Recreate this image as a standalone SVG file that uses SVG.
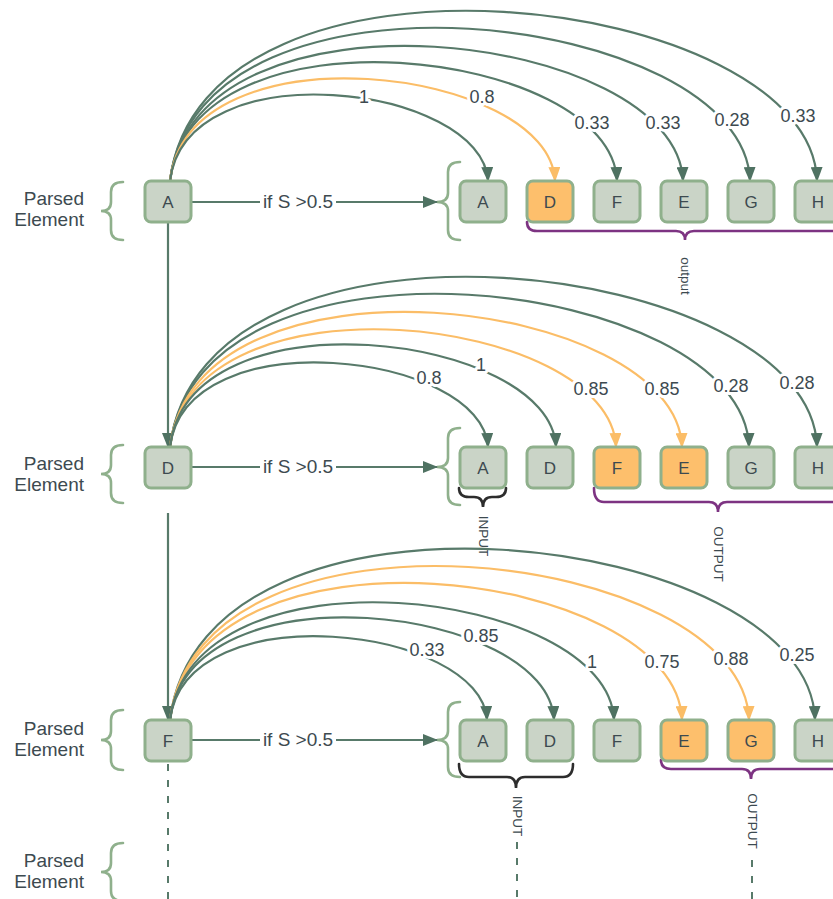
<svg xmlns="http://www.w3.org/2000/svg" width="833" height="899" viewBox="0 0 833 899">
  <defs>
    <style>
      .ln { fill: none; stroke: #587a6a; stroke-width: 2.2; }
      .or { fill: none; stroke: #fbbd67; stroke-width: 2.2; }
      .dash { fill: none; stroke: #587a6a; stroke-width: 2; stroke-dasharray: 7 9; }
      .node rect { fill: #cad4c7; stroke: #8fb08c; stroke-width: 3; }
      .node.hot rect { fill: #fdbf6c; }
      .node text { font-family: 'Liberation Sans', Arial, sans-serif; font-size: 17px; fill: #3d4a50; text-anchor: middle; }
      .lbl { font-family: 'Liberation Sans', Arial, sans-serif; font-size: 18px; fill: #3d4a50; text-anchor: middle;
             paint-order: stroke; stroke: #ffffff; stroke-width: 6; stroke-linejoin: round; }
      .cond { font-family: 'Liberation Sans', Arial, sans-serif; font-size: 19px; fill: #3d4a50; text-anchor: middle; }
      .bg { fill: #ffffff; }
      .side { font-family: 'Liberation Sans', Arial, sans-serif; font-size: 19px; fill: #3d4a50; text-anchor: end; }
      .brace { fill: none; stroke: #8fb08c; stroke-width: 2.6; stroke-linecap: round; }
      .ub-in { fill: none; stroke: #2d2d2d; stroke-width: 2.6; stroke-linecap: round; }
      .ub-out { fill: none; stroke: #7d3382; stroke-width: 2.6; stroke-linecap: round; }
      .rot { font-family: 'Liberation Sans', Arial, sans-serif; font-size: 13.5px; fill: #3d4a50; text-anchor: middle; dominant-baseline: central; }
    </style>
    <marker id="ag" viewBox="0 0 15 12" refX="14" refY="6" markerWidth="15" markerHeight="12" markerUnits="userSpaceOnUse" orient="auto">
      <path d="M0,0 L15,6 L0,12 z" fill="#4f7262"/>
    </marker>
    <marker id="ao" viewBox="0 0 15 12" refX="14" refY="6" markerWidth="15" markerHeight="12" markerUnits="userSpaceOnUse" orient="auto">
      <path d="M0,0 L15,6 L0,12 z" fill="#fbbd67"/>
    </marker>
  </defs>

  <rect width="833" height="899" fill="#ffffff"/>

  <!-- row captions with left braces -->
  <g id="captions">
    <text class="side" x="84" y="205">Parsed</text>
    <text class="side" x="84" y="226">Element</text>
    <path class="brace" d="M123,182 Q111,182 111,192 L111,202 Q111,211 101,211 Q111,211 111,220 L111,230 Q111,240 123,240"/>

    <text class="side" x="84" y="470">Parsed</text>
    <text class="side" x="84" y="491">Element</text>
    <path class="brace" d="M123,445 Q111,445 111,455 L111,465 Q111,474 101,474 Q111,474 111,483 L111,493 Q111,503 123,503"/>

    <text class="side" x="84" y="735">Parsed</text>
    <text class="side" x="84" y="756">Element</text>
    <path class="brace" d="M123,710 Q111,710 111,720 L111,731 Q111,740 101,740 Q111,740 111,749 L111,760 Q111,770 123,770"/>

    <text class="side" x="84" y="867">Parsed</text>
    <text class="side" x="84" y="888">Element</text>
    <path class="brace" d="M123,843 Q111,843 111,853 L111,863 Q111,872 101,872 Q111,872 111,881 L111,891 Q111,901 123,901"/>
  </g>

  <!-- sequence braces and group markers -->
  <g id="groups">
    <path class="brace" d="M460,162 Q448,162 448,172 L448,193 Q448,202 437,202 Q448,202 448,211 L448,230 Q448,240 460,240"/>
    <path class="brace" d="M460,428 Q448,428 448,438 L448,458 Q448,467 437,467 Q448,467 448,476 L448,495 Q448,505 460,505"/>
    <path class="brace" d="M460,702 Q448,702 448,712 L448,731 Q448,740 437,740 Q448,740 448,749 L448,767 Q448,777 460,777"/>

    <path class="ub-out" d="M527,222 Q527,231 537,231 L676,231 Q685,231 685,240 Q685,231 694,231 L900,231"/>
    <text class="rot" transform="translate(685,276) rotate(90)">output</text>

    <path class="ub-in" d="M459,488 Q459,497 469,497 L474,497 Q483,497 483,507 Q483,497 492,497 L496,497 Q506,497 506,488"/>
    <text class="rot" transform="translate(483,536) rotate(90)">INPUT</text>
    <path class="ub-out" d="M594,488 Q594,502 604,502 L709,502 Q718,502 718,512 Q718,502 727,502 L900,502"/>
    <text class="rot" transform="translate(718,554) rotate(90)">OUTPUT</text>

    <path class="ub-in" d="M459,764 Q459,777 469,777 L507,777 Q516,777 516,788 Q516,777 525,777 L563,777 Q573,777 573,764"/>
    <text class="rot" transform="translate(517,816) rotate(90)">INPUT</text>
    <path class="ub-out" d="M661,760 Q661,769 671,769 L742,769 Q751,769 751,779 Q751,769 760,769 L900,769"/>
    <text class="rot" transform="translate(752,821) rotate(90)">OUTPUT</text>
  </g>

  <!-- connectors -->
  <g id="connectors">
    <!-- vertical flow between parsed elements -->
    <path class="ln" d="M168,222 L168,447" marker-end="url(#ag)"/>
    <path class="ln" d="M168,513 L168,720" marker-end="url(#ag)"/>
    <path class="dash" d="M168,764 L168,899"/>
    <path class="dash" d="M517,842 L517,899"/>
    <path class="dash" d="M752,860 L752,899"/>

    <!-- threshold arrows -->
    <path class="ln" d="M191,202 L437,202" marker-end="url(#ag)"/>
    <path class="ln" d="M191,467 L437,467" marker-end="url(#ag)"/>
    <path class="ln" d="M191,740 L437,740" marker-end="url(#ag)"/>
    <rect class="bg" x="260" y="193" width="76" height="18"/>
    <rect class="bg" x="260" y="458" width="76" height="18"/>
    <rect class="bg" x="260" y="731" width="76" height="18"/>
    <text class="cond" x="298" y="208">if S &gt;0.5</text>
    <text class="cond" x="298" y="473">if S &gt;0.5</text>
    <text class="cond" x="298" y="746">if S &gt;0.5</text>

    <!-- row 1 similarity arcs -->
    <path class="ln" d="M170,181 C202,-81 812,-8 817,181" marker-end="url(#ag)"/>
    <path class="ln" d="M170,181 C199,-55 745,11 750,181" marker-end="url(#ag)"/>
    <path class="ln" d="M170,181 C196,-27 678,31 683,181" marker-end="url(#ag)"/>
    <path class="ln" d="M170,181 C192,-2 612,49 617,181" marker-end="url(#ag)"/>
    <path class="or" d="M170,181 C189,23 550,67 555,181" marker-end="url(#ao)"/>
    <path class="ln" d="M170,181 C186,48 483,85 488,181" marker-end="url(#ag)"/>
    <text class="lbl" x="364" y="103">1</text>
    <text class="lbl" x="482" y="103">0.8</text>
    <text class="lbl" x="592" y="129">0.33</text>
    <text class="lbl" x="663" y="129">0.33</text>
    <text class="lbl" x="732" y="126">0.28</text>
    <text class="lbl" x="798" y="122">0.33</text>

    <!-- row 2 similarity arcs -->
    <path class="ln" d="M170,447 C202,185 812,258 817,447" marker-end="url(#ag)"/>
    <path class="ln" d="M170,447 C199,211 744,277 749,447" marker-end="url(#ag)"/>
    <path class="or" d="M170,447 C196,239 677,297 682,447" marker-end="url(#ao)"/>
    <path class="or" d="M170,447 C192,266 611,316 616,447" marker-end="url(#ao)"/>
    <path class="ln" d="M170,447 C189,289 551,333 556,447" marker-end="url(#ag)"/>
    <path class="ln" d="M170,447 C186,317 483,353 488,447" marker-end="url(#ag)"/>
    <text class="lbl" x="429" y="384">0.8</text>
    <text class="lbl" x="481" y="371">1</text>
    <text class="lbl" x="591" y="395">0.85</text>
    <text class="lbl" x="662" y="395">0.85</text>
    <text class="lbl" x="731" y="392">0.28</text>
    <text class="lbl" x="797" y="389">0.28</text>

    <!-- row 3 similarity arcs -->
    <path class="ln" d="M170,720 C202,456 810,530 815,720" marker-end="url(#ag)"/>
    <path class="or" d="M170,720 C199,483 744,549 749,720" marker-end="url(#ao)"/>
    <path class="or" d="M170,720 C196,509 677,568 682,720" marker-end="url(#ao)"/>
    <path class="ln" d="M170,720 C192,539 609,589 614,720" marker-end="url(#ag)"/>
    <path class="ln" d="M170,720 C189,562 549,606 554,720" marker-end="url(#ag)"/>
    <path class="ln" d="M170,720 C186,591 482,627 487,720" marker-end="url(#ag)"/>
    <text class="lbl" x="427" y="656">0.33</text>
    <text class="lbl" x="481" y="642">0.85</text>
    <text class="lbl" x="592" y="668">1</text>
    <text class="lbl" x="662" y="668">0.75</text>
    <text class="lbl" x="731" y="665">0.88</text>
    <text class="lbl" x="797" y="661">0.25</text>
  </g>

  <!-- row 1 nodes -->
  <g id="r1-parsed-A" class="node"><rect x="145" y="181" width="46" height="41" rx="6"/><text x="168" y="208">A</text></g>
  <g id="r1-A" class="node"><rect x="460" y="181" width="46" height="41" rx="6"/><text x="483" y="208">A</text></g>
  <g id="r1-D" class="node hot"><rect x="527" y="181" width="46" height="41" rx="6"/><text x="550" y="208">D</text></g>
  <g id="r1-F" class="node"><rect x="594" y="181" width="46" height="41" rx="6"/><text x="617" y="208">F</text></g>
  <g id="r1-E" class="node"><rect x="661" y="181" width="46" height="41" rx="6"/><text x="684" y="208">E</text></g>
  <g id="r1-G" class="node"><rect x="728" y="181" width="46" height="41" rx="6"/><text x="751" y="208">G</text></g>
  <g id="r1-H" class="node"><rect x="795" y="181" width="46" height="41" rx="6"/><text x="818" y="208">H</text></g>

  <!-- row 2 nodes -->
  <g id="r2-parsed-D" class="node"><rect x="145" y="447" width="46" height="41" rx="6"/><text x="168" y="474">D</text></g>
  <g id="r2-A" class="node"><rect x="460" y="447" width="46" height="41" rx="6"/><text x="483" y="474">A</text></g>
  <g id="r2-D" class="node"><rect x="527" y="447" width="46" height="41" rx="6"/><text x="550" y="474">D</text></g>
  <g id="r2-F" class="node hot"><rect x="594" y="447" width="46" height="41" rx="6"/><text x="617" y="474">F</text></g>
  <g id="r2-E" class="node hot"><rect x="661" y="447" width="46" height="41" rx="6"/><text x="684" y="474">E</text></g>
  <g id="r2-G" class="node"><rect x="728" y="447" width="46" height="41" rx="6"/><text x="751" y="474">G</text></g>
  <g id="r2-H" class="node"><rect x="795" y="447" width="46" height="41" rx="6"/><text x="818" y="474">H</text></g>

  <!-- row 3 nodes -->
  <g id="r3-parsed-F" class="node"><rect x="145" y="720" width="46" height="41" rx="6"/><text x="168" y="747">F</text></g>
  <g id="r3-A" class="node"><rect x="460" y="720" width="46" height="41" rx="6"/><text x="483" y="747">A</text></g>
  <g id="r3-D" class="node"><rect x="527" y="720" width="46" height="41" rx="6"/><text x="550" y="747">D</text></g>
  <g id="r3-F" class="node"><rect x="594" y="720" width="46" height="41" rx="6"/><text x="617" y="747">F</text></g>
  <g id="r3-E" class="node hot"><rect x="661" y="720" width="46" height="41" rx="6"/><text x="684" y="747">E</text></g>
  <g id="r3-G" class="node hot"><rect x="728" y="720" width="46" height="41" rx="6"/><text x="751" y="747">G</text></g>
  <g id="r3-H" class="node"><rect x="795" y="720" width="46" height="41" rx="6"/><text x="818" y="747">H</text></g>
</svg>
